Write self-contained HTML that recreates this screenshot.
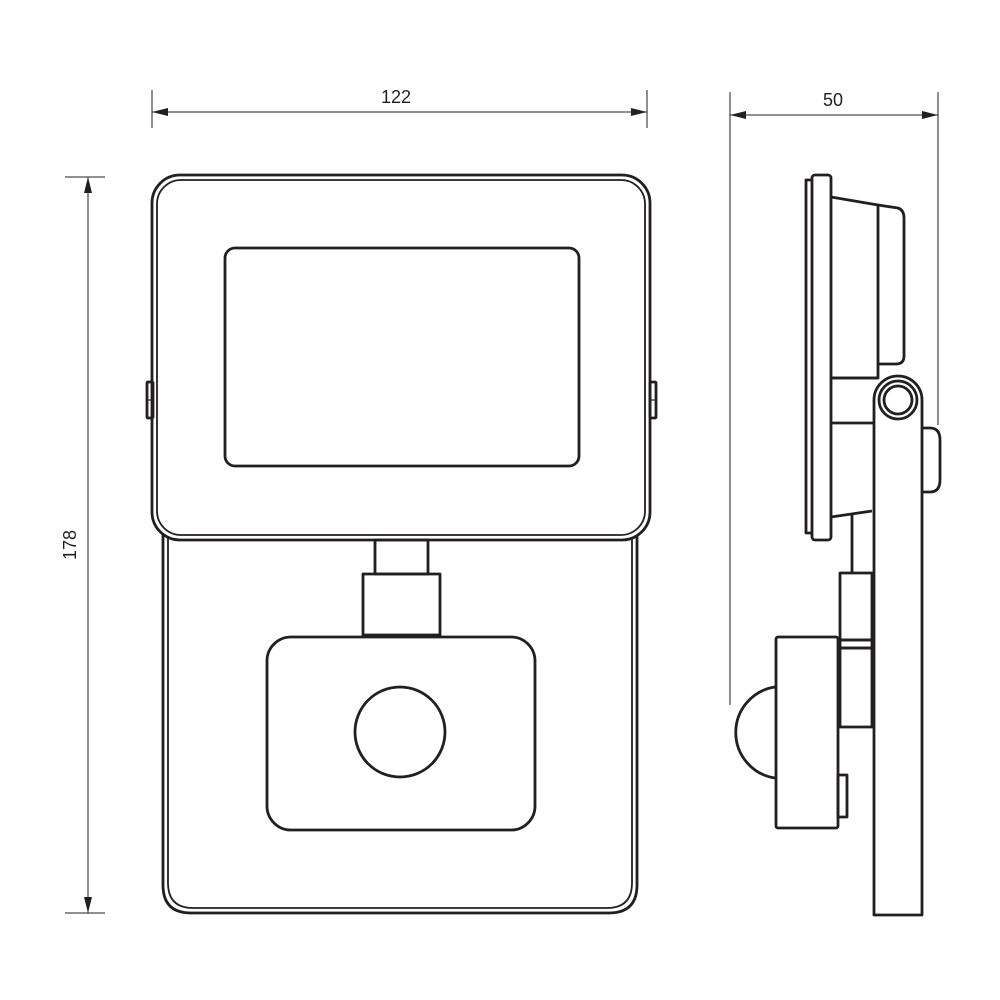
<!DOCTYPE html>
<html><head><style>html,body{margin:0;padding:0;background:#fff}svg{display:block}</style></head>
<body>
<svg width="1000" height="1000" viewBox="0 0 1000 1000" xmlns="http://www.w3.org/2000/svg">
<g fill="none" stroke="#231f20" stroke-width="2.8" stroke-linejoin="round">
<g stroke-width="1">
<line x1="152" y1="90" x2="152" y2="128"/><line x1="647" y1="90" x2="647" y2="128"/>
<line x1="152" y1="112" x2="647" y2="112"/>
<line x1="730" y1="92" x2="730" y2="705"/><line x1="938" y1="92" x2="938" y2="425"/>
<line x1="730" y1="115" x2="938" y2="115"/>
<line x1="65" y1="177" x2="105" y2="177"/><line x1="65" y1="913" x2="105" y2="913"/>
<line x1="88" y1="177" x2="88" y2="913"/>
</g>
<g fill="#231f20" stroke="none">
<polygon points="152,112 168,108 168,116"/><polygon points="647,112 631,108 631,116"/>
<polygon points="730,115 746,111 746,119"/><polygon points="938,115 922,111 922,119"/>
<polygon points="88,177 84,193 92,193"/><polygon points="88,913 84,897 92,897"/>
</g>
<path d="M163 535 V885 Q163 913 191 913 H609 Q637 913 637 885 V535"/>
<path d="M168 538 V883 Q168 908 193 908 H607 Q632 908 632 883 V538" stroke-width="1.8"/>
<rect x="152" y="175" width="498" height="365" rx="28" fill="#fff"/>
<rect x="157" y="180" width="488" height="355" rx="24" stroke-width="1.8"/>
<rect x="225" y="248" width="354" height="218" rx="10"/>
<rect x="147" y="382" width="6" height="36" rx="1"/><line x1="147" y1="400" x2="153" y2="400" stroke-width="1.2"/>
<rect x="650" y="382" width="6" height="36" rx="1"/><line x1="650" y1="400" x2="656" y2="400" stroke-width="1.2"/>
<rect x="375" y="540" width="53" height="34"/>
<rect x="363" y="574" width="77" height="61"/>
<rect x="267" y="637" width="268" height="193" rx="24"/>
<circle cx="400" cy="732" r="45"/>
<path d="M812 180 H806 V533 H812"/>
<rect x="812" y="175" width="19" height="365" rx="3"/>
<path d="M831 197 L878 205 V378 H831"/>
<path d="M878 205 L898 208 Q904 210 904 218 V356 Q904 364 896 364 H878"/>
<line x1="831" y1="378" x2="878" y2="378"/>
<line x1="831" y1="423" x2="873" y2="423"/>
<path d="M831 517 L872 511"/>
<line x1="852" y1="515" x2="852" y2="573"/>
<path d="M874 915 V400 A24 24 0 0 1 922 400 V915 Z"/>
<circle cx="898" cy="400" r="19"/>
<circle cx="898" cy="400" r="14"/>
<path d="M922 428 H930 Q940 428 940 440 V480 Q940 492 930 492 H922"/>
<rect x="840" y="573" width="32" height="67"/>
<rect x="840" y="640" width="32" height="8"/>
<rect x="840" y="648" width="32" height="79"/>
<rect x="776" y="637" width="62" height="191" rx="2"/>
<path d="M775 687 A46 46 0 0 0 775 778"/>
<rect x="838" y="775" width="9" height="42"/>
</g>
<g font-family="Liberation Sans, sans-serif" font-size="18" fill="#231f20">
<text x="396" y="103" text-anchor="middle">122</text>
<text x="833" y="106" text-anchor="middle">50</text>
<text transform="translate(76,545) rotate(-90)" text-anchor="middle">178</text>
</g>
</svg>
</body></html>
